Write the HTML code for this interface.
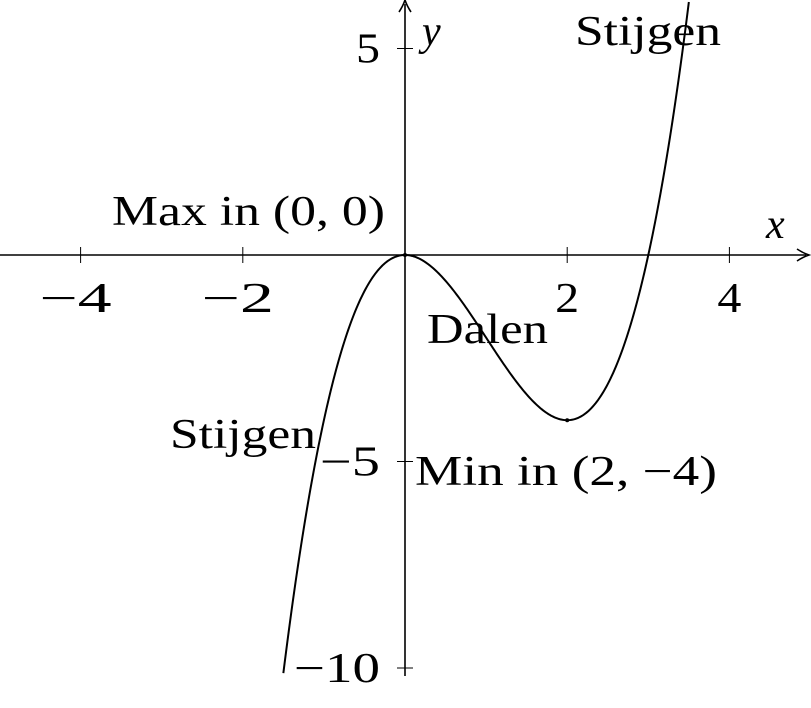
<!DOCTYPE html>
<html><head><meta charset="utf-8"><style>
html,body{margin:0;padding:0;background:#fff}
svg text{font-family:"Liberation Serif","DejaVu Serif",serif;font-size:42px;fill:#000}
</style></head><body>
<svg width="811" height="703" viewBox="0 0 811 703" xmlns="http://www.w3.org/2000/svg">
<g id="axes"></g>
<g id="marks"></g>
<g id="labels"></g>
</svg>
<script>
const xTicks=[-4,-2,2,4];
const xTickLabels=["\u22124","\u22122","2","4"];
const yTicks=[5,-5,-10];
const yTickLabels=["5","\u22125","\u221210"];
const coeffs=[1,-3,0,0]; // y = x^3 - 3x^2
const xDomain=[-1.5,3.5];
const annotations=[
 {text:"Max in (0, 0)",x:0,y:0},
 {text:"Min in (2, \u22124)",x:2,y:-4}
];
const NS="http://www.w3.org/2000/svg";
const sx=v=>405+v*81.1;
const sy=v=>255-v*41.3;
function mk(tag,attrs,parent){const e=document.createElementNS(NS,tag);for(const k in attrs)e.setAttribute(k,attrs[k]);parent.appendChild(e);return e;}
function fit(e,w){e.setAttribute('textLength',w);e.setAttribute('lengthAdjust','spacingAndGlyphs');}
const axes=document.getElementById('axes'),marks=document.getElementById('marks'),labels=document.getElementById('labels');
let xa=mk('line',{x1:0,y1:255,x2:806,y2:255,stroke:'#000','stroke-width':1.6},axes);


let ya=mk('line',{x1:405,y1:676,x2:405,y2:4,stroke:'#000','stroke-width':1.6},axes);


let xr=mk('path',{d:'M797,249 Q803,253 809,255 Q803,257 797,261',fill:'none',stroke:'#000','stroke-width':1.6},axes);


let yr=mk('path',{d:'M399,12 Q403,6 405,0 Q407,6 411,12',fill:'none',stroke:'#000','stroke-width':1.6},axes);


xTicks.forEach((t,i)=>{
 let l=mk('line',{x1:sx(t),y1:247,x2:sx(t),y2:263,stroke:'#000','stroke-width':1},axes);
 
 
 let tx=mk('text',{x:sx(t)+(t<0?-5:0),y:312,'text-anchor':'middle'},labels);
 tx.textContent=xTickLabels[i];
 if(t<0)fit(tx,72);else fit(tx,24);
 
 
});
yTicks.forEach((t,i)=>{
 let l=mk('line',{x1:397,y1:sy(t),x2:413,y2:sy(t),stroke:'#000','stroke-width':1},axes);
 
 
 let tx=mk('text',{x:380,y:sy(t)+14,'text-anchor':'end'},labels);
 tx.textContent=yTickLabels[i];
 fit(tx,yTickLabels[i].length*26+(t<0?8:-2));
 
 
});
const f=x=>coeffs.reduce((a,c)=>a*x+c,0);
let d='';
for(let i=0;i<=300;i++){const x=xDomain[0]+(xDomain[1]-xDomain[0])*i/300;d+=(i?'L':'M')+sx(x).toFixed(2)+','+sy(f(x)).toFixed(2);}
let cp=mk('path',{d:d,fill:'none',stroke:'#000','stroke-width':2},marks);


annotations.forEach(a=>{
 let c=mk('circle',{cx:sx(a.x),cy:sy(a.y),r:2,fill:'#000'},marks);
 
 
});
const txts=[
 ['x-axis-title','x',766,238,'start','italic',0],
 ['y-axis-title','y',422,45,'start','italic',0],
 ['max-label',annotations[0].text,112,225,'start','normal',273],
 ['min-label',annotations[1].text,415,485,'start','normal',302],
 ['rising-label-right','Stijgen',575,45,'start','normal',146],
 ['falling-label','Dalen',427,343,'start','normal',121],
 ['rising-label-left','Stijgen',170,448,'start','normal',146]
];
txts.forEach(t=>{
 let e=mk('text',{x:t[2],y:t[3],'text-anchor':t[4],'font-style':t[5]},labels);
 e.textContent=t[1];
 if(t[6])fit(e,t[6]);
 
 
});
</script>
</body></html>
